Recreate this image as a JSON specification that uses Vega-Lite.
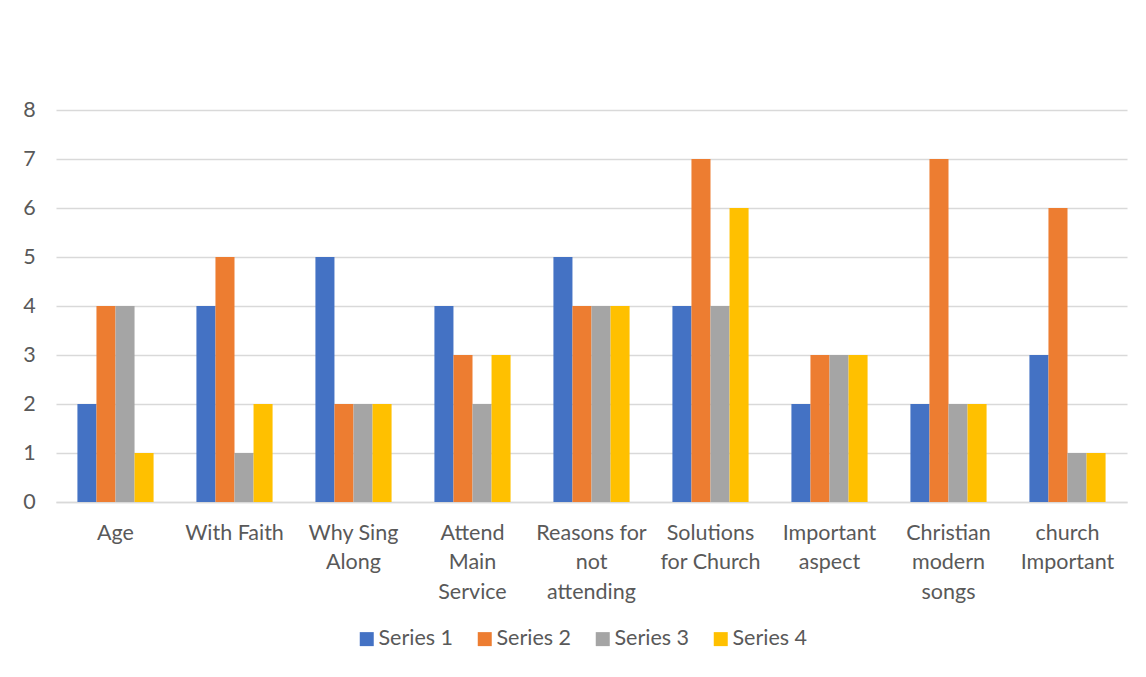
{
  "$schema": "https://vega.github.io/schema/vega-lite/v6.json",
  "autosize": {"type": "none"},
  "padding": {"left": 56, "top": 110, "right": 19, "bottom": 175},
  "width": 1071,
  "height": 392,
  "background": "white",
  "config": {
    "view": {"stroke": null},
    "font": "Lato"
  },
  "data": {
    "values": [
      {"category": "Age", "series": "Series 1", "value": 2},
      {"category": "Age", "series": "Series 2", "value": 4},
      {"category": "Age", "series": "Series 3", "value": 4},
      {"category": "Age", "series": "Series 4", "value": 1},
      {"category": "With Faith", "series": "Series 1", "value": 4},
      {"category": "With Faith", "series": "Series 2", "value": 5},
      {"category": "With Faith", "series": "Series 3", "value": 1},
      {"category": "With Faith", "series": "Series 4", "value": 2},
      {"category": "Why Sing Along", "series": "Series 1", "value": 5},
      {"category": "Why Sing Along", "series": "Series 2", "value": 2},
      {"category": "Why Sing Along", "series": "Series 3", "value": 2},
      {"category": "Why Sing Along", "series": "Series 4", "value": 2},
      {"category": "Attend Main Service", "series": "Series 1", "value": 4},
      {"category": "Attend Main Service", "series": "Series 2", "value": 3},
      {"category": "Attend Main Service", "series": "Series 3", "value": 2},
      {"category": "Attend Main Service", "series": "Series 4", "value": 3},
      {"category": "Reasons for not attending", "series": "Series 1", "value": 5},
      {"category": "Reasons for not attending", "series": "Series 2", "value": 4},
      {"category": "Reasons for not attending", "series": "Series 3", "value": 4},
      {"category": "Reasons for not attending", "series": "Series 4", "value": 4},
      {"category": "Solutions for Church", "series": "Series 1", "value": 4},
      {"category": "Solutions for Church", "series": "Series 2", "value": 7},
      {"category": "Solutions for Church", "series": "Series 3", "value": 4},
      {"category": "Solutions for Church", "series": "Series 4", "value": 6},
      {"category": "Important aspect", "series": "Series 1", "value": 2},
      {"category": "Important aspect", "series": "Series 2", "value": 3},
      {"category": "Important aspect", "series": "Series 3", "value": 3},
      {"category": "Important aspect", "series": "Series 4", "value": 3},
      {"category": "Christian modern songs", "series": "Series 1", "value": 2},
      {"category": "Christian modern songs", "series": "Series 2", "value": 7},
      {"category": "Christian modern songs", "series": "Series 3", "value": 2},
      {"category": "Christian modern songs", "series": "Series 4", "value": 2},
      {"category": "church Important", "series": "Series 1", "value": 3},
      {"category": "church Important", "series": "Series 2", "value": 6},
      {"category": "church Important", "series": "Series 3", "value": 1},
      {"category": "church Important", "series": "Series 4", "value": 1}
    ]
  },
  "mark": {"type": "bar"},
  "encoding": {
    "x": {
      "field": "category",
      "type": "nominal",
      "sort": null,
      "scale": {"paddingInner": 0.36, "paddingOuter": 0.18},
      "axis": {
        "title": null,
        "labelAngle": 0,
        "labelFont": "Lato",
        "labelFontSize": 21.5,
        "labelColor": "#595959",
        "labelPadding": 20,
        "labelLineHeight": 29.5,
        "labelBaseline": "top",
        "ticks": false,
        "domainColor": "#D9D9D9",
        "domainWidth": 1.3,
        "labelExpr": "datum.value == 'Why Sing Along' ? ['Why Sing', 'Along'] : datum.value == 'Attend Main Service' ? ['Attend', 'Main', 'Service'] : datum.value == 'Reasons for not attending' ? ['Reasons for', 'not', 'attending'] : datum.value == 'Solutions for Church' ? ['Solutions', 'for Church'] : datum.value == 'Important aspect' ? ['Important', 'aspect'] : datum.value == 'Christian modern songs' ? ['Christian', 'modern', 'songs'] : datum.value == 'church Important' ? ['church', 'Important'] : datum.value"
      }
    },
    "xOffset": {"field": "series", "type": "nominal", "scale": {"paddingInner": 0, "paddingOuter": 0}},
    "y": {
      "field": "value",
      "type": "quantitative",
      "scale": {"domain": [0, 8]},
      "axis": {
        "title": null,
        "tickCount": 8,
        "grid": true,
        "gridColor": "#D9D9D9",
        "gridWidth": 1.3,
        "domain": false,
        "ticks": false,
        "labelFont": "Lato",
        "labelFontSize": 21.5,
        "labelColor": "#595959",
        "labelPadding": 27,
        "labelAlign": "center"
      }
    },
    "color": {
      "field": "series",
      "type": "nominal",
      "scale": {
        "domain": ["Series 1", "Series 2", "Series 3", "Series 4"],
        "range": ["#4472C4", "#ED7D31", "#A5A5A5", "#FFC000"]
      },
      "legend": {
        "title": null,
        "orient": "none",
        "legendX": 300,
        "legendY": 518,
        "direction": "horizontal",
        "symbolType": "square",
        "symbolSize": 196,
        "symbolStrokeWidth": 0,
        "labelFont": "Lato",
        "labelFontSize": 21.5,
        "labelColor": "#595959",
        "labelOffset": 1,
        "columnPadding": 20
      }
    }
  }
}
